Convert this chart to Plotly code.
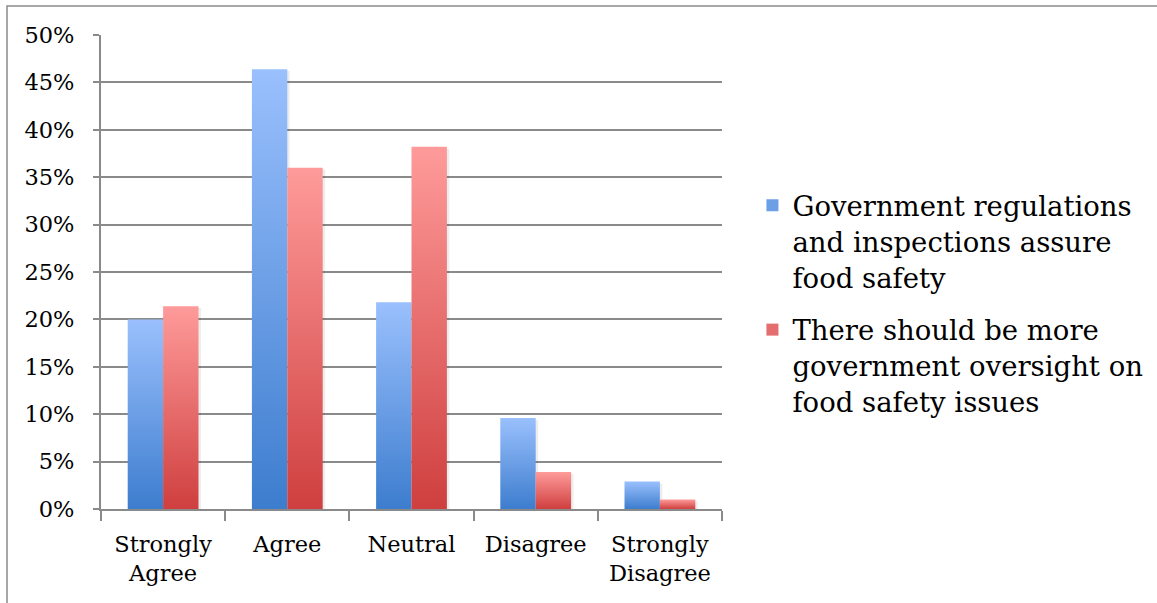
import plotly.graph_objects as go

# Survey responses (share of respondents) per answer category
categories = ["Strongly<br>Agree", "Agree", "Neutral", "Disagree", "Strongly<br>Disagree"]
series_names = [
    "Government regulations<br>and inspections assure<br>food safety",
    "There should be more<br>government oversight on<br>food safety issues",
]
assure_values = [0.200, 0.464, 0.218, 0.096, 0.029]
oversight_values = [0.214, 0.360, 0.382, 0.039, 0.010]
y_ticks = [0.0, 0.05, 0.10, 0.15, 0.20, 0.25, 0.30, 0.35, 0.40, 0.45, 0.50]

# Styling
BLUE_DARK, BLUE_MID, BLUE_LIGHT = "#3d7dce", "#6d9fe6", "#9ac0fd"
RED_DARK, RED_MID, RED_LIGHT = "#cf3f3f", "#e46e6d", "#fe9b9a"
GRID = "#8a8a8a"
FONT = "DejaVu Serif"
BAR_W = 0.285

series = [
    ("assure", series_names[0], assure_values, -BAR_W, BLUE_DARK, BLUE_MID, BLUE_LIGHT),
    ("oversight", series_names[1], oversight_values, 0.0, RED_DARK, RED_MID, RED_LIGHT),
]

fig = go.Figure()

# Soft drop shadow to the right of every bar
for key, name, values, offset, dark, mid, light in series:
    for i, v in enumerate(values):
        x0 = i + offset + 0.02
        x1 = x0 + BAR_W
        fig.add_trace(go.Scatter(
            x=[x0, x0, x1, x1, x0],
            y=[0, v - 0.002, v - 0.002, 0, 0],
            mode="lines", line=dict(width=0),
            fill="toself", fillcolor="rgba(0,0,0,0.07)",
            hoverinfo="skip", showlegend=False,
        ))

# Each bar is a filled rectangle with its own vertical gradient (dark at base, light at top)
for key, name, values, offset, dark, mid, light in series:
    for i, v in enumerate(values):
        x0 = i + offset
        x1 = x0 + BAR_W
        fig.add_trace(go.Scatter(
            x=[x0, x0, x1, x1, x0],
            y=[0, v, v, 0, 0],
            mode="lines",
            line=dict(width=0),
            fill="toself",
            fillgradient=dict(type="vertical", start=0, stop=v,
                              colorscale=[[0, dark], [1, light]]),
            hoverinfo="skip",
            showlegend=False,
        ))

# Legend entries
for key, name, values, offset, dark, mid, light in series:
    fig.add_trace(go.Bar(x=[None], y=[None], name=name, legendgroup=key,
                         marker=dict(color=mid, line=dict(width=0))))

boundaries = [i - 0.5 for i in range(len(categories) + 1)]

fig.update_layout(
    width=1157, height=603,
    margin=dict(l=101, r=435, t=35, b=94, autoexpand=False),
    paper_bgcolor="white", plot_bgcolor="white",
    font=dict(family=FONT, color="black"),
    showlegend=True,
    legend=dict(
        x=1.049, y=0.692, xanchor="left", yanchor="top",
        font=dict(family=FONT, size=27.5, color="black"),
        valign="top", tracegroupgap=14, bgcolor="rgba(0,0,0,0)",
    ),
    xaxis=dict(
        range=[-0.5, len(categories) - 0.5],
        tickmode="array", tickvals=list(range(len(categories))), ticktext=categories,
        ticks="outside", ticklen=10, tickcolor="rgba(0,0,0,0)",
        minor=dict(tickmode="array", tickvals=boundaries, ticks="outside",
                   ticklen=10, tickcolor=GRID, tickwidth=2, showgrid=False),
        ticklabelstandoff=4,
        showline=True, linecolor=GRID, linewidth=2,
        showgrid=False, zeroline=False,
        tickfont=dict(family=FONT, size=22.5, color="black"),
        fixedrange=True,
    ),
    yaxis=dict(
        range=[0, 0.5],
        tickmode="array", tickvals=y_ticks, tickformat=".0%",
        ticks="outside", ticklen=6, tickcolor=GRID, tickwidth=2,
        ticklabelstandoff=14,
        showline=True, linecolor=GRID, linewidth=2,
        showgrid=True, gridcolor=GRID, gridwidth=2, zeroline=False,
        tickfont=dict(family=FONT, size=22.5, color="black"),
        fixedrange=True,
    ),
    shapes=[
        dict(type="rect", xref="paper", yref="paper",
             x0=(7 - 101) / 621, x1=(1180 - 101) / 621,
             y0=(509 - 6) / 474, y1=(509 - 640) / 474,
             line=dict(color="#8c8c8c", width=1.5), fillcolor="rgba(0,0,0,0)",
             layer="below"),
    ],
)

fig.write_html("out.html")
